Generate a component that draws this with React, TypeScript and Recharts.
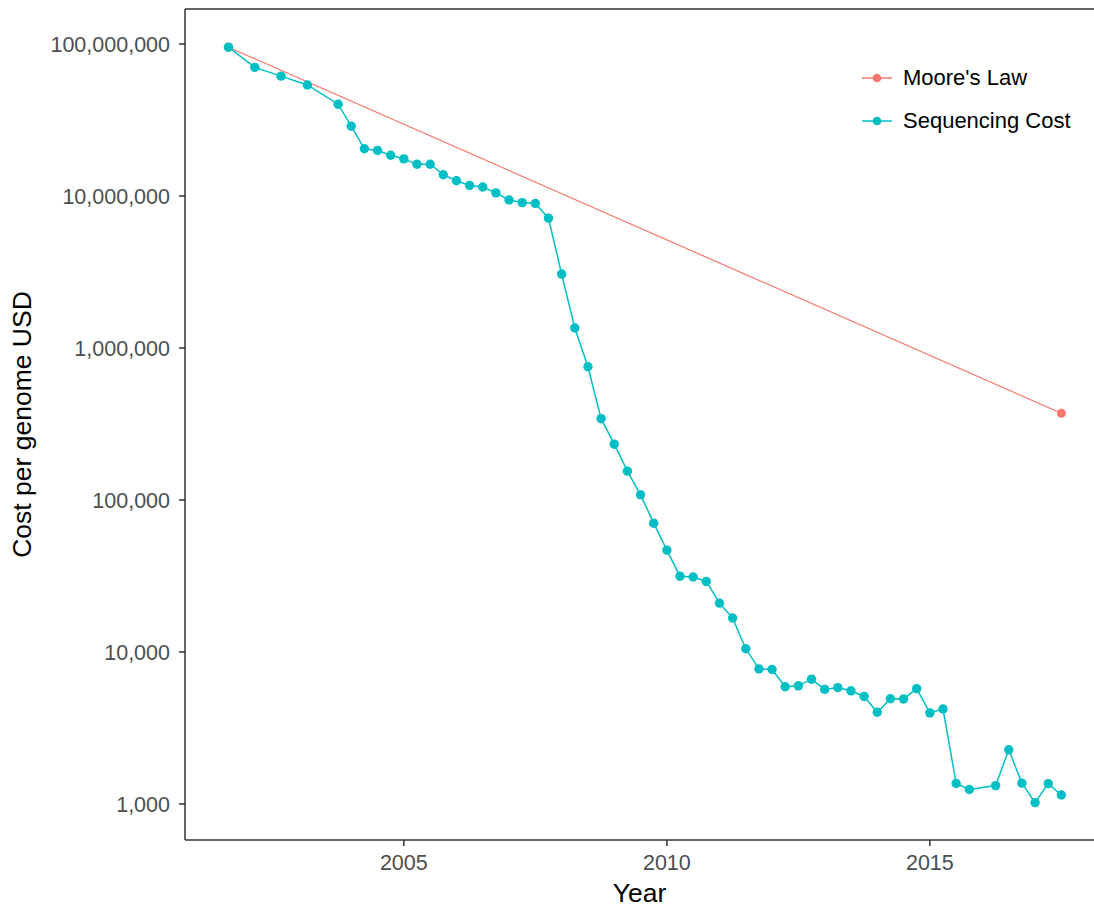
import { ComposedChart, Line, ReferenceLine, XAxis, YAxis } from "recharts";

// NHGRI cost per genome, by month of the estimate
const seqMonths = [
  "2001-09", "2002-03", "2002-09", "2003-03", "2003-10", "2004-01", "2004-04", "2004-07",
  "2004-10", "2005-01", "2005-04", "2005-07", "2005-10", "2006-01", "2006-04", "2006-07",
  "2006-10", "2007-01", "2007-04", "2007-07", "2007-10", "2008-01", "2008-04", "2008-07",
  "2008-10", "2009-01", "2009-04", "2009-07", "2009-10", "2010-01", "2010-04", "2010-07",
  "2010-10", "2011-01", "2011-04", "2011-07", "2011-10", "2012-01", "2012-04", "2012-07",
  "2012-10", "2013-01", "2013-04", "2013-07", "2013-10", "2014-01", "2014-04", "2014-07",
  "2014-10", "2015-01", "2015-04", "2015-07", "2015-10", "2016-04", "2016-07", "2016-10",
  "2017-01", "2017-04", "2017-07",
];
const seqCost = [
  95263072, 70175437, 61448422, 53751684, 40157554, 28780376, 20442576, 19934346,
  18519312, 17534970, 16159699, 16180224, 13801124, 12585659, 11732535, 11455315,
  10474556, 9408739, 9047003, 8927342, 7147571, 3063820, 1352982, 752080,
  342502, 232735, 154714, 108065, 70333, 46774, 31512, 31125,
  29092, 20963, 16712, 10497, 7743, 7666, 5901, 5985,
  6618, 5671, 5826, 5550, 5096, 4008, 4920, 4905,
  5731, 3970, 4211, 1363, 1245, 1320, 2270, 1370,
  1020, 1360, 1145,
];

const mooreMonths = ["2001-09", "2017-07"];
const mooreCost = [95263072, 372000];

const xTicks = [2005, 2010, 2015];
const yTicks = [1000, 10000, 100000, 1000000, 10000000, 100000000];

const X_DOMAIN: [number, number] = [2000.84, 2018.12];
const Y_DOMAIN: [number, number] = [579, 169900000];

const SEQ_COLOR = "#00BFC4";
const MOORE_COLOR = "#F8766D";
const FONT = "Arial, 'Liberation Sans', sans-serif";

const toYear = (m: string) => {
  const [y, mo] = m.split("-").map(Number);
  return y + (mo - 1) / 12;
};

const seqData = seqMonths.map((m, i) => ({ year: toYear(m), cost: seqCost[i] }));
const mooreData = mooreMonths.map((m, i) => ({ year: toYear(m), cost: mooreCost[i] }));

const legendItems = [
  { name: "Moore's Law", color: MOORE_COLOR },
  { name: "Sequencing Cost", color: SEQ_COLOR },
];

function LegendBox() {
  return (
    <div
      style={{
        position: "absolute",
        left: 860,
        top: 56,
        fontFamily: FONT,
        fontSize: 22,
        color: "#000",
      }}
    >
      {legendItems.map((it) => (
        <div key={it.name} style={{ display: "flex", alignItems: "center", height: 43 }}>
          <svg width={43} height={20} style={{ display: "block" }}>
            <line x1={2} x2={32} y1={10} y2={10} stroke={it.color} strokeWidth={1.5} />
            <circle cx={17} cy={10} r={4.3} fill={it.color} />
          </svg>
          <span>{it.name}</span>
        </div>
      ))}
    </div>
  );
}

export default function App() {
  return (
    <div style={{ position: "absolute", left: 0, top: 0, width: 1094, height: 907, background: "#fff" }}>
      <ComposedChart
        width={1094}
        height={907}
        margin={{ top: 9, right: 0, left: 0, bottom: 0 }}
        style={{ fontFamily: FONT }}
      >
        <XAxis
          type="number"
          dataKey="year"
          domain={X_DOMAIN}
          allowDataOverflow
          ticks={xTicks}
          height={67}
          tickSize={6}
          tickMargin={9}
          axisLine={{ stroke: "#333", strokeWidth: 1.5 }}
          tickLine={{ stroke: "#333", strokeWidth: 1.5 }}
          tick={{ fill: "#4D4D4D", fontSize: 21.5, fontFamily: FONT }}
          label={{
            content: ({ viewBox }: any) => (
              <text
                x={viewBox.x + viewBox.width / 2}
                y={viewBox.y + viewBox.height - 5}
                textAnchor="middle"
                fontSize={26.5}
                fontFamily={FONT}
                fill="#000"
              >
                Year
              </text>
            ),
          }}
        />
        <YAxis
          type="number"
          dataKey="cost"
          scale="log"
          domain={Y_DOMAIN}
          allowDataOverflow
          ticks={yTicks}
          width={185}
          tickSize={6}
          tickMargin={9}
          tickFormatter={(v: number) => v.toLocaleString("en-US")}
          axisLine={{ stroke: "#333", strokeWidth: 1.5 }}
          tickLine={{ stroke: "#333", strokeWidth: 1.5 }}
          tick={{ fill: "#4D4D4D", fontSize: 21.5, fontFamily: FONT }}
          label={{
            content: ({ viewBox }: any) => {
              const cx = 22;
              const cy = viewBox.y + viewBox.height / 2;
              return (
                <text
                  x={cx}
                  y={cy}
                  transform={`rotate(-90 ${cx} ${cy})`}
                  textAnchor="middle"
                  dominantBaseline="central"
                  fontSize={26.5}
                  fontFamily={FONT}
                  fill="#000"
                >
                  Cost per genome USD
                </text>
              );
            },
          }}
        />
        <ReferenceLine y={Y_DOMAIN[1]} stroke="#333" strokeWidth={1.5} ifOverflow="visible" />
        <Line
          data={mooreData}
          dataKey="cost"
          name="Moore's Law"
          stroke={MOORE_COLOR}
          strokeWidth={1.2}
          dot={{ r: 4.5, fill: MOORE_COLOR, stroke: MOORE_COLOR, strokeWidth: 0 }}
          activeDot={false}
          isAnimationActive={false}
        />
        <Line
          data={seqData}
          dataKey="cost"
          name="Sequencing Cost"
          stroke={SEQ_COLOR}
          strokeWidth={1.5}
          dot={{ r: 4.7, fill: SEQ_COLOR, stroke: SEQ_COLOR, strokeWidth: 0 }}
          activeDot={false}
          isAnimationActive={false}
        />
      </ComposedChart>
      <LegendBox />
    </div>
  );
}
